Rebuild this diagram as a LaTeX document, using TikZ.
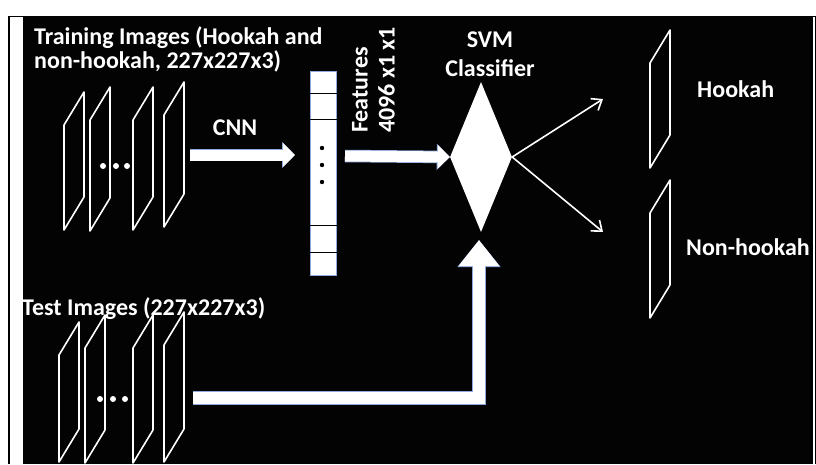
\documentclass[tikz,border=0pt]{standalone}
\usepackage{fontspec}
\setmainfont{Carlito}
\usetikzlibrary{arrows.meta,positioning,shapes.geometric}
\definecolor{hkpanel}{HTML}{030303}
\definecolor{hkedge} {HTML}{8EA9DB}
\tikzset{
  hklabel/.style={text=white, inner sep=0pt, font=\bfseries\fontsize{24}{24}\selectfont},
  hkslice/.style={draw=white, line width=1.6pt, line join=round},
  hkdot/.style={fill=white},
  hkblock/.style={draw=white, line width=11pt, -{Triangle[length=12pt,width=23pt]},
    preaction={draw=hkedge, line width=12.5pt, -{Triangle[length=13pt,width=25.5pt]}}},
  hkbigblock/.style={draw=white, line width=12pt, line join=miter,
    -{Triangle[length=26pt,width=39pt]},
    preaction={draw=hkedge, line width=13.5pt, line join=miter,
               -{Triangle[length=27pt,width=41.5pt]}}},
  hkthin/.style={draw=white, line width=1.6pt, -{Straight Barb[length=9pt,width=14pt]}},
  hkfeat/.style={draw=hkedge, fill=white, minimum width=26pt, minimum height=204pt,
                 inner sep=0pt},
  hksvm/.style={diamond, fill=white, minimum width=62pt, minimum height=150pt,
                inner sep=0pt},
}
\begin{document}
\begin{tikzpicture}[x=1pt,y=-1pt]
  \useasboundingbox (0,0) rectangle (816,464);
  \fill[white] (0,0) rectangle (816,464);
  \draw[black,line width=1.5pt] (9,464) -- (9,16.5) -- (815.5,16.5) -- (815.5,464);
  \fill[hkpanel] (23,16) rectangle (813,464);

  % image stacks
  \foreach \x/\y/\h in {64/230/105, 90/231/111, 133/230/110, 164/227/112,
                        59/462/107, 85/463/115, 133/463/115, 164/462/117,
                        650/168/105, 650/318/105}
    {\draw[hkslice] (\x,\y) -- (\x,\y-\h) -- (\x+20,\y-\h-33) -- (\x+20,\y-33) -- cycle;}
  \foreach \x/\y in {103/166, 116/166, 127/166, 100/399, 113/399, 125/399}
    {\fill[hkdot] (\x,\y) circle (3pt);}

  \node[hklabel, anchor=north west, align=left] (trainlbl) at (34,26)
    {Training Images (Hookah and\\non-hookah, 227x227x3)};
  \node[hklabel, anchor=base west] (testlbl) at (22,315) {Test Images (227x227x3)};
  \node[hklabel, anchor=base] (cnnlbl) at (235,135) {CNN};

  % feature vector
  \node[hkfeat] (feat) at (323.5,173) {};
  \foreach \y in {93,119,225,252}
    {\draw[black,line width=1pt] (feat.west |- 0,\y) -- (feat.east |- 0,\y);}
  \foreach \y in {148,165,182}
    {\fill[black] (322,\y) circle (2.2pt);}
  \node[hklabel, rotate=90, anchor=south west, align=left,
        font=\bfseries\fontsize{24}{27}\selectfont] (featlbl) at (395,133)
    {Features\\4096 x1 x1};

  % classifier
  \node[hksvm] (svm) at (481,157) {};
  \node[hklabel, anchor=north, align=center, font=\bfseries\fontsize{24}{29}\selectfont]
    (svmlbl) at (490,32) {SVM\\Classifier};
  \node[hklabel, anchor=base west] (hooklbl) at (697,97) {Hookah};
  \node[hklabel, anchor=base west] (nonhooklbl) at (686,255) {Non-hookah};

  \coordinate (cnnfrom) at (190,155);
  \coordinate (cnnto) at (295,155);
  \coordinate (featfrom) at (345,156);
  \coordinate (testfrom) at (193,398);
  \coordinate (testbend) at (479,398);
  \coordinate (testto) at (479,240);
  \coordinate (hooktip) at (603,99);
  \coordinate (nonhooktip) at (603,232);

  \draw[hkblock] (cnnfrom) -- (cnnto);
  \draw[hkblock] (featfrom) -- (svm.west);
  \draw[hkbigblock] (testfrom) -- (testbend) -- (testto);
  \draw[hkthin] (svm.east) -- (hooktip);
  \draw[hkthin] (svm.east) -- (nonhooktip);
\end{tikzpicture}
\end{document}
